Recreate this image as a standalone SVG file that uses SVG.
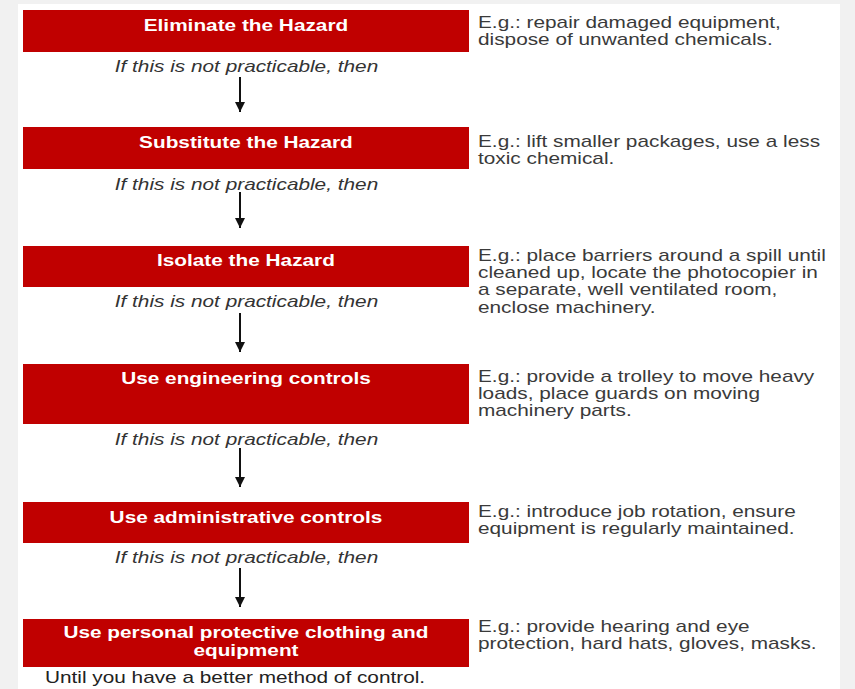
<svg xmlns="http://www.w3.org/2000/svg" width="855" height="689" viewBox="0 0 855 689">
<defs>
<style>
.box{fill:#c00000}
.t{font-family:"Liberation Sans",Arial,sans-serif;font-size:16px}
.h{font-weight:bold;fill:#ffffff;text-anchor:middle}
.n{font-style:italic;fill:#333333;text-anchor:middle}
.d{fill:#3a3a3a}
.u{fill:#222222;text-anchor:middle}
.c{stroke:#111111;stroke-width:2;fill:none}
</style>
<marker id="ah" markerUnits="userSpaceOnUse" markerWidth="11" markerHeight="11" refX="10" refY="5" orient="auto">
<path d="M0,0 L10,5 L0,10 z" fill="#111111"/>
</marker>
</defs>
<rect x="0" y="0" width="855" height="689" fill="#f1f1f1"/>
<rect x="18" y="4" width="822" height="685" fill="#ffffff"/>

<g id="node-eliminate">
<rect class="box" x="23" y="10" width="446" height="42"/>
<text class="t h" transform="scale(1.3 1)" x="189.2" y="31">Eliminate the Hazard</text>
<text class="t d" transform="scale(1.3 1)" x="367.7" y="28">E.g.: repair damaged equipment,</text>
<text class="t d" transform="scale(1.3 1)" x="367.7" y="45">dispose of unwanted chemicals.</text>
</g>

<g id="node-substitute">
<rect class="box" x="23" y="127" width="446" height="42"/>
<text class="t h" transform="scale(1.3 1)" x="189.2" y="148">Substitute the Hazard</text>
<text class="t d" transform="scale(1.3 1)" x="367.7" y="147">E.g.: lift smaller packages, use a less</text>
<text class="t d" transform="scale(1.3 1)" x="367.7" y="164">toxic chemical.</text>
</g>

<g id="node-isolate">
<rect class="box" x="23" y="246" width="446" height="41"/>
<text class="t h" transform="scale(1.3 1)" x="189.2" y="266">Isolate the Hazard</text>
<text class="t d" transform="scale(1.3 1)" x="367.7" y="261">E.g.:  place barriers around a spill until</text>
<text class="t d" transform="scale(1.3 1)" x="367.7" y="278">cleaned up, locate the photocopier in</text>
<text class="t d" transform="scale(1.3 1)" x="367.7" y="295">a separate, well ventilated room,</text>
<text class="t d" transform="scale(1.3 1)" x="367.7" y="313">enclose machinery.</text>
</g>

<g id="node-engineering">
<rect class="box" x="23" y="364" width="446" height="60"/>
<text class="t h" transform="scale(1.3 1)" x="189.2" y="384">Use engineering controls</text>
<text class="t d" transform="scale(1.3 1)" x="367.7" y="382">E.g.: provide a trolley to move heavy</text>
<text class="t d" transform="scale(1.3 1)" x="367.7" y="399">loads, place guards on moving</text>
<text class="t d" transform="scale(1.3 1)" x="367.7" y="416">machinery parts.</text>
</g>

<g id="node-administrative">
<rect class="box" x="23" y="502" width="446" height="41"/>
<text class="t h" transform="scale(1.3 1)" x="189.2" y="523">Use administrative controls</text>
<text class="t d" transform="scale(1.3 1)" x="367.7" y="517">E.g.: introduce job rotation, ensure</text>
<text class="t d" transform="scale(1.3 1)" x="367.7" y="534">equipment is regularly maintained.</text>
</g>

<g id="node-ppe">
<rect class="box" x="23" y="619" width="446" height="48"/>
<text class="t h" transform="scale(1.3 1)" x="189.2" y="638">Use personal protective clothing and</text>
<text class="t h" transform="scale(1.3 1)" x="189.2" y="656">equipment</text>
<text class="t d" transform="scale(1.3 1)" x="367.7" y="632">E.g.: provide hearing and eye</text>
<text class="t d" transform="scale(1.3 1)" x="367.7" y="649">protection, hard hats, gloves, masks.</text>
<text class="t u" transform="scale(1.3 1)" x="180.8" y="683">Until you have a better method of control.</text>
</g>

<g id="connectors">
<text class="t n" transform="scale(1.3 1)" x="189.6" y="72">If this is not practicable, then</text>
<line class="c" x1="240" y1="77" x2="240" y2="112" marker-end="url(#ah)"/>
<text class="t n" transform="scale(1.3 1)" x="189.6" y="190">If this is not practicable, then</text>
<line class="c" x1="240" y1="192" x2="240" y2="228" marker-end="url(#ah)"/>
<text class="t n" transform="scale(1.3 1)" x="189.6" y="307">If this is not practicable, then</text>
<line class="c" x1="240" y1="313" x2="240" y2="352" marker-end="url(#ah)"/>
<text class="t n" transform="scale(1.3 1)" x="189.6" y="445">If this is not practicable, then</text>
<line class="c" x1="240" y1="448" x2="240" y2="487" marker-end="url(#ah)"/>
<text class="t n" transform="scale(1.3 1)" x="189.6" y="563">If this is not practicable, then</text>
<line class="c" x1="240" y1="568" x2="240" y2="607" marker-end="url(#ah)"/>
</g>
</svg>
